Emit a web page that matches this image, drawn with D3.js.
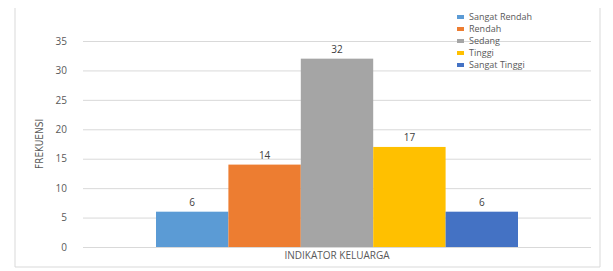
<!DOCTYPE html>
<html>
<head>
<meta charset="utf-8">
<script src="https://cdn.jsdelivr.net/npm/d3@7/dist/d3.min.js"></script>
<style>
  body { margin: 0; background: #fff; }
  text { font-family: "Open Sans", "Liberation Sans", sans-serif; }
</style>
</head>
<body>
<div id="bar-chart"></div>
<script>
const categories = ['Sangat Rendah', 'Rendah', 'Sedang', 'Tinggi', 'Sangat Tinggi'];
const values = [6, 14, 32, 17, 6];
const yTicks = [0, 5, 10, 15, 20, 25, 30, 35];
const groupLabel = 'INDIKATOR KELUARGA';
const yTitle = 'FREKUENSI';

const color = d3.scaleOrdinal(categories, ['#5b9bd5', '#ed7d31', '#a5a5a5', '#ffc000', '#4472c4']);

const width = 613;
const height = 271;
const margin = { top: 41, right: 22, bottom: 24, left: 83 };

const svg = d3.select('#bar-chart')
    .append('svg')
    .attr('width', width)
    .attr('height', height);

// chart frame (only the sides show in the scan)
svg.append('line').attr('x1', 15).attr('x2', 15).attr('y1', 8).attr('y2', 267)
    .attr('stroke', '#d9d9d9');
svg.append('line').attr('x1', 600).attr('x2', 600).attr('y1', 8).attr('y2', 267)
    .attr('stroke', '#d9d9d9');
svg.append('line').attr('x1', 15).attr('x2', 600).attr('y1', 267).attr('y2', 267)
    .attr('stroke', '#d9d9d9');

const y = d3.scaleLinear()
    .domain([0, 35])
    .range([height - margin.bottom, margin.top]);

const x = d3.scaleBand()
    .domain(categories)
    .range([156, 518]);

// gridlines
svg.append('g')
    .attr('transform', `translate(${margin.left},0)`)
    .call(d3.axisLeft(y).tickValues(yTicks).tickSize(-(width - margin.left - margin.right)).tickFormat(''))
    .call(g => g.select('.domain').remove())
    .call(g => g.selectAll('line').attr('stroke', '#d9d9d9'));

// tick labels
svg.append('g')
    .attr('transform', `translate(${margin.left - 13},0)`)
    .call(d3.axisLeft(y).tickValues(yTicks).tickSize(0))
    .call(g => g.select('.domain').remove())
    .call(g => g.selectAll('text')
        .attr('fill', '#595959')
        .style('font-size', '10px'));

// bars
svg.append('g')
    .selectAll('rect')
    .data(values)
    .enter().append('rect')
    .attr('x', (d, i) => x(categories[i]))
    .attr('width', x.bandwidth())
    .attr('y', d => y(d))
    .attr('height', d => y(0) - y(d))
    .attr('fill', (d, i) => color(categories[i]));

// value labels
svg.append('g')
    .selectAll('text')
    .data(values)
    .enter().append('text')
    .attr('x', (d, i) => x(categories[i]) + x.bandwidth() / 2)
    .attr('y', d => y(d) - 6)
    .attr('text-anchor', 'middle')
    .attr('fill', '#404040')
    .style('font-size', '10px')
    .text(d => d);

// axis titles
svg.append('text')
    .attr('x', 337)
    .attr('y', 259)
    .attr('text-anchor', 'middle')
    .attr('fill', '#595959')
    .style('font-size', '10px')
    .text(groupLabel);

svg.append('text')
    .attr('transform', 'translate(43,144) rotate(-90)')
    .attr('text-anchor', 'middle')
    .attr('fill', '#595959')
    .style('font-family', '"DejaVu Sans Condensed", "Liberation Sans Narrow", sans-serif')
    .style('font-size', '10px')
    .text(yTitle);

// legend
const legend = svg.append('g')
    .selectAll('g')
    .data(categories)
    .enter().append('g')
    .attr('transform', (d, i) => `translate(457,${17 + i * 12})`);

legend.append('rect')
    .attr('y', -2)
    .attr('width', 7)
    .attr('height', 4)
    .attr('fill', d => color(d));

legend.append('text')
    .attr('x', 12)
    .attr('dy', '0.35em')
    .attr('fill', '#595959')
    .style('font-size', '9px')
    .text(d => d);
</script>
</body>
</html>
